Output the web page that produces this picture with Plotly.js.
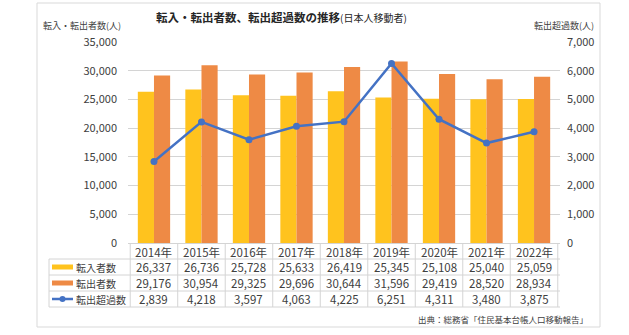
<!DOCTYPE html>
<html><head><meta charset="utf-8">
<script src="https://cdn.plot.ly/plotly-3.0.1.min.js"></script>
<style>html,body{margin:0;padding:0;background:#fff;}#c{width:629px;height:335px;}</style>
</head><body><div id="c"></div>
<script>
const years = ['2014年','2015年','2016年','2017年','2018年','2019年','2020年','2021年','2022年'];
const tennyu = [26337, 26736, 25728, 25633, 26419, 25345, 25108, 25040, 25059];
const tenshutsu = [29176, 30954, 29325, 29696, 30644, 31596, 29419, 28520, 28934];
const excess = [2839, 4218, 3597, 4063, 4225, 6251, 4311, 3480, 3875];
const rowNames = ['転入者数','転出者数','転出超過数'];

const W=629,H=335,L=128,R=560,T=42,B=243;
const pw=R-L, ph=B-T;
const px=x=>(x-L)/pw, py=y=>(B-y)/ph;
const FONT='"Noto Sans CJK JP","Noto Sans",sans-serif';
const TXT='#404040', GRID='#D4D4D4';
const cYel='#FFC31E', cOrg='#EE8A45', cBlue='#4472C4';

const fmt=v=>v.toLocaleString('en-US');

const traces=[
 {type:'bar',x:years,y:tennyu,name:rowNames[0],marker:{color:cYel},hoverinfo:'none'},
 {type:'bar',x:years,y:tenshutsu,name:rowNames[1],marker:{color:cOrg},hoverinfo:'none'},
 {type:'scatter',mode:'lines+markers',x:years,y:excess,yaxis:'y2',name:rowNames[2],
  line:{color:cBlue,width:2.5},marker:{color:cBlue,size:7},hoverinfo:'none'}
];

const shapes=[], ann=[];
const A=(o)=>Object.assign({showarrow:false,yanchor:'middle',borderpad:0},o);
// outer frame
shapes.push({type:'rect',xref:'paper',yref:'paper',x0:px(37),x1:px(600),y0:py(3),y1:py(327),line:{color:'#D9D9D9',width:1}});
// table horizontal lines
const rowsY=[243.5,259,275,291,307];
rowsY.forEach((y,i)=>{
  shapes.push({type:'line',xref:'paper',yref:'paper',x0:px(i===0?L:49),x1:px(R),y0:py(y),y1:py(y),line:{color:GRID,width:1}});
});
// vertical lines
shapes.push({type:'line',xref:'paper',yref:'paper',x0:px(49),x1:px(49),y0:py(259),y1:py(307),line:{color:GRID,width:1}});
for(let i=0;i<=years.length;i++){
  shapes.push({type:'line',xref:'x',yref:'paper',x0:i-0.5,x1:i-0.5,y0:py(243.5),y1:py(307),line:{color:GRID,width:1}});
}
// header years and values
const rowC=[251.5,267,283,299];
const tf={size:11.5,color:TXT,family:FONT};
years.forEach((yr,i)=>{
  ann.push(A({xref:'x',yref:'paper',x:yr,y:py(rowC[0]),text:yr,font:tf}));
  ann.push(A({xref:'x',yref:'paper',x:yr,y:py(rowC[1]),text:fmt(tennyu[i]),font:tf}));
  ann.push(A({xref:'x',yref:'paper',x:yr,y:py(rowC[2]),text:fmt(tenshutsu[i]),font:tf}));
  ann.push(A({xref:'x',yref:'paper',x:yr,y:py(rowC[3]),text:fmt(excess[i]),font:tf}));
});
// row labels and legend keys
rowNames.forEach((n,i)=>{
  ann.push(A({xref:'paper',yref:'paper',x:px(75),y:py(rowC[i+1]),xanchor:'left',text:n,font:{size:10,color:TXT,family:FONT}}));
});
shapes.push({type:'line',xref:'paper',yref:'paper',x0:px(52),x1:px(73),y0:py(267),y1:py(267),line:{color:cYel,width:5}});
shapes.push({type:'line',xref:'paper',yref:'paper',x0:px(52),x1:px(73),y0:py(283),y1:py(283),line:{color:cOrg,width:5}});
shapes.push({type:'line',xref:'paper',yref:'paper',x0:px(52),x1:px(73),y0:py(299),y1:py(299),line:{color:cBlue,width:2.5}});
shapes.push({type:'circle',xref:'paper',yref:'paper',x0:px(59.5),x1:px(65.5),y0:py(296),y1:py(302),fillcolor:cBlue,line:{color:cBlue,width:0}});

// axis titles
ann.push(A({xref:'paper',yref:'paper',x:px(42),y:py(26),xanchor:'left',text:'転入・転出者数(人)',font:{size:9,color:TXT,family:FONT}}));
ann.push(A({xref:'paper',yref:'paper',x:px(595),y:py(26),xanchor:'right',text:'転出超過数(人)',font:{size:9,color:TXT,family:FONT}}));
// source
ann.push(A({xref:'paper',yref:'paper',x:px(589),y:py(319),xanchor:'right',text:'出典：総務省「住民基本台帳人口移動報告」',font:{size:8.5,color:TXT,family:FONT}}));
// title
ann.push(A({xref:'paper',yref:'paper',x:px(281),y:py(17),xanchor:'center',text:'<b>転入・転出者数、転出超過数の推移</b><span style="font-size:10px">(日本人移動者)</span>',font:{size:11.5,color:'#262626',family:FONT}}));

const layout={
 width:W,height:H,margin:{l:L,r:W-R,t:T,b:H-B,pad:0},
 paper_bgcolor:'#fff',plot_bgcolor:'#fff',showlegend:false,
 barmode:'group',bargap:0.32,bargroupgap:0,
 font:{family:FONT,color:TXT},
 xaxis:{type:'category',showticklabels:false,ticks:'',showgrid:false,zeroline:false,showline:false,fixedrange:true},
 yaxis:{range:[0,35000],dtick:5000,tickformat:',d',gridcolor:GRID,gridwidth:1,zeroline:false,showline:false,ticks:'',ticklen:0,tickfont:{size:11,color:TXT,family:FONT},ticklabelstandoff:10},
 yaxis2:{overlaying:'y',side:'right',range:[0,7000],dtick:1000,tickformat:',d',showgrid:false,zeroline:false,showline:false,ticks:'',tickfont:{size:11,color:TXT,family:FONT},ticklabelstandoff:6},
 shapes:shapes,annotations:ann
};
Plotly.newPlot('c',traces,layout,{staticPlot:true,displayModeBar:false});
</script></body></html>
